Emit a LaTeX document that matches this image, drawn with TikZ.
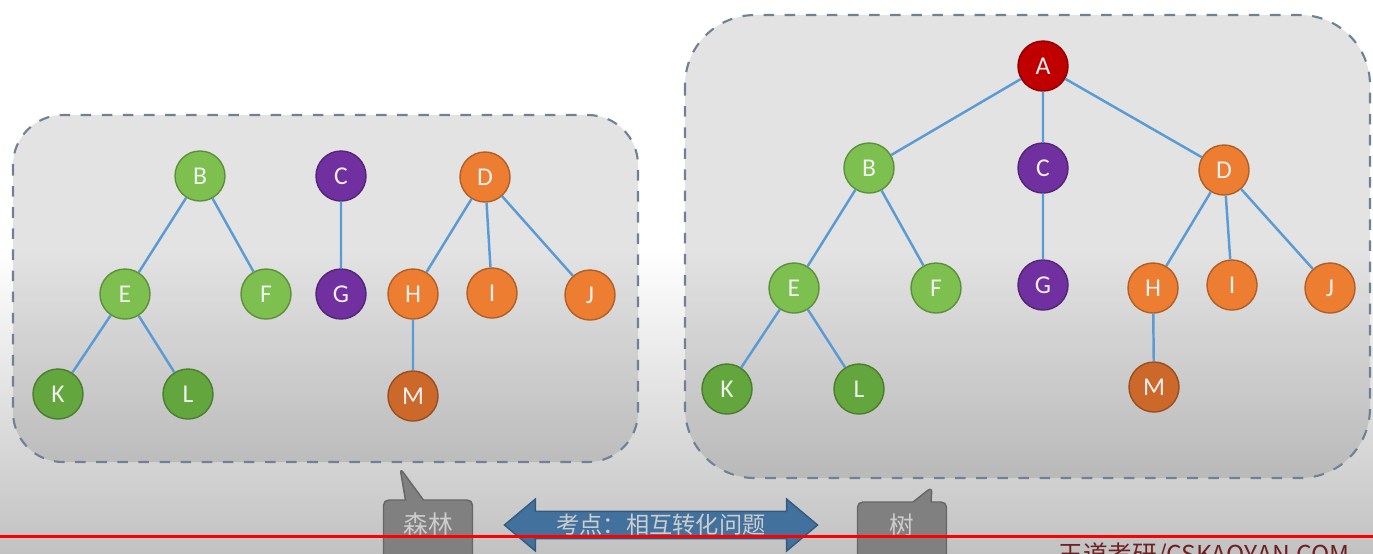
\documentclass[tikz,border=0pt]{standalone}
\usepackage{fontspec}
\setmainfont{Carlito}
\newfontfamily\cjk{Noto Sans CJK SC}
\usetikzlibrary{shapes.callouts,shapes.arrows}
\definecolor{leafgreen}{RGB}{125,192,79}
\definecolor{deepgreen}{RGB}{99,166,61}
\definecolor{grapepurple}{RGB}{112,48,160}
\definecolor{pumpkin}{RGB}{237,125,49}
\definecolor{rust}{RGB}{204,104,42}
\definecolor{rootred}{RGB}{192,0,0}
\definecolor{edgeblue}{RGB}{91,155,213}
\definecolor{boxline}{RGB}{110,130,150}
\definecolor{arrowblue}{RGB}{65,113,156}
\definecolor{tagfill}{RGB}{128,128,128}
\definecolor{tagtext}{RGB}{205,205,205}
\definecolor{markred}{RGB}{110,32,32}

\begin{document}
\begin{tikzpicture}[
  x=0.01cm, y=-0.01cm,
  vtx/.style={
    circle, minimum size=0.5cm, inner sep=0pt, fill=#1, draw=#1!75!black,
    line width=0.4pt, text=white!94!black, font=\fontsize{7.3}{8}\selectfont
  },
  link/.style={edgeblue, line width=0.7pt},
  groupbox/.style={
    draw=boxline, dashed, line width=0.6pt, fill=black, fill opacity=0.11
  },
  tag/.style={
    rectangle callout, fill=tagfill, draw=tagfill!80!black, line width=0.4pt,
    rounded corners=1.5pt, callout pointer width=0.18cm,
    text=tagtext, font=\cjk\fontsize{7}{8}\selectfont,
    minimum width=0.89cm, minimum height=0.6cm, inner sep=0pt
  }
]
\useasboundingbox (0,0) rectangle (1373,553);

% =====================================================================
% Background
% =====================================================================
\fill[white] (0,0) rectangle (1373,250);
\shade[top color=white, bottom color=black!24] (0,250) rectangle (1373,553);

% =====================================================================
% Group boxes
% =====================================================================

% -- forest --
\draw[groupbox, rounded corners=0.5cm] (13,115) rectangle (638,462);

% -- tree --
\draw[groupbox, rounded corners=0.7cm] (685,15) rectangle (1370,478);

% =====================================================================
% Forest (three trees)
% =====================================================================
\node[vtx=leafgreen] (fB) at (200,176) {B};
\node[vtx=leafgreen] (fE) at (125,294) {E};
\node[vtx=leafgreen] (fF) at (266,294) {F};
\node[vtx=deepgreen] (fK) at (58,394) {K};
\node[vtx=deepgreen] (fL) at (188,394) {L};

\node[vtx=grapepurple] (fC) at (341,176) {C};
\node[vtx=grapepurple] (fG) at (341,294) {G};

\node[vtx=pumpkin] (fD) at (485,177) {D};
\node[vtx=pumpkin] (fH) at (413,294) {H};
\node[vtx=pumpkin] (fI) at (492,293) {I};
\node[vtx=pumpkin] (fJ) at (590,295) {J};
\node[vtx=rust] (fM) at (413,396) {M};

\draw[link] (fB) -- (fE) (fB) -- (fF) (fE) -- (fK) (fE) -- (fL)
  (fC) -- (fG)
  (fD) -- (fH) (fD) -- (fI) (fD) -- (fJ) (fH) -- (fM);

% =====================================================================
% Tree (rooted at A)
% =====================================================================
\node[vtx=rootred] (tA) at (1043,66) {A};

\node[vtx=leafgreen] (tB) at (869,168) {B};
\node[vtx=leafgreen] (tE) at (794,288) {E};
\node[vtx=leafgreen] (tF) at (936,288) {F};
\node[vtx=deepgreen] (tK) at (727,389) {K};
\node[vtx=deepgreen] (tL) at (859,389) {L};

\node[vtx=grapepurple] (tC) at (1043,168) {C};
\node[vtx=grapepurple] (tG) at (1043,285) {G};

\node[vtx=pumpkin] (tD) at (1224,170) {D};
\node[vtx=pumpkin] (tH) at (1153,288) {H};
\node[vtx=pumpkin] (tI) at (1232,285) {I};
\node[vtx=pumpkin] (tJ) at (1330,288) {J};
\node[vtx=rust] (tM) at (1154,387) {M};

\draw[link] (tA) -- (tB) (tA) -- (tC) (tA) -- (tD)
  (tB) -- (tE) (tB) -- (tF) (tE) -- (tK) (tE) -- (tL)
  (tC) -- (tG)
  (tD) -- (tH) (tD) -- (tI) (tD) -- (tJ) (tH) -- (tM);

% =====================================================================
% Labels and conversion arrow
% =====================================================================
\node[tag, callout absolute pointer={(400,468)}] (forestTag) at (428,530)
  {\raisebox{4.2pt}{森林}};
\node[tag, callout absolute pointer={(932,487)}] (treeTag) at (902,532)
  {\raisebox{4.5pt}{树}};

\node[double arrow, fill=arrowblue, draw=arrowblue!80!black, line width=0.4pt,
  minimum height=3.13cm, minimum width=0.52cm, inner sep=0pt,
  double arrow head extend=0.11cm, double arrow tip angle=80,
  text=tagtext, font=\cjk\fontsize{6.6}{8}\selectfont] (convArrow) at (661,525)
  {\raisebox{1pt}{考点：相互转化问题}};

% =====================================================================
% Video overlay
% =====================================================================
\draw[red, line width=0.85pt] (0,536) -- (1373,536);
\node[anchor=north west, inner sep=0pt, text=markred,
  font=\cjk\fontsize{7}{8}\selectfont] (siteMark) at (1058,542)
  {王道考研/CSKAOYAN.COM};

\end{tikzpicture}
\end{document}
